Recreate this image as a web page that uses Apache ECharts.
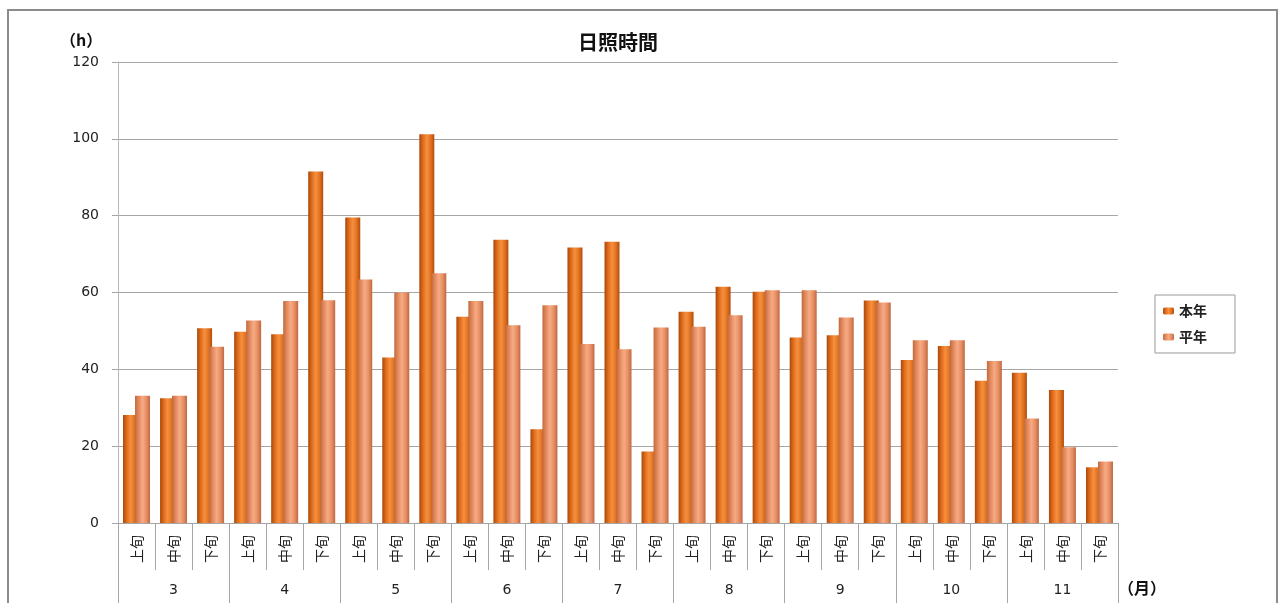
<!DOCTYPE html>
<html>
<head>
<meta charset="utf-8">
<script src="https://cdn.jsdelivr.net/npm/echarts@6/dist/echarts.min.js"></script>
<style>
  html, body { margin: 0; padding: 0; background: #ffffff; }
  #chart { width: 1284px; height: 603px; }
</style>
</head>
<body>
<div id="chart"></div>
<script>
// Sunshine duration per ten-day period (hours), March to November
const months = ['3', '4', '5', '6', '7', '8', '9', '10', '11'];
const dekads = ['上旬', '中旬', '下旬'];
const thisYear = [28.1, 32.5, 50.7, 49.8, 49.1, 91.5, 79.5, 43.1, 101.2,
                  53.7, 73.7, 24.4, 71.7, 73.2, 18.6, 55.0, 61.5, 60.2,
                  48.3, 48.9, 57.9, 42.4, 46.1, 37.0, 39.1, 34.6, 14.5];
const normalYear = [33.1, 33.1, 45.9, 52.7, 57.8, 58.0, 63.4, 60.0, 65.0,
                    57.8, 51.5, 56.7, 46.6, 45.2, 50.9, 51.1, 54.1, 60.6,
                    60.6, 53.5, 57.4, 47.6, 47.6, 42.2, 27.2, 19.7, 16.0];
const yTicks = [0, 20, 40, 60, 80, 100, 120];

// one category per ten-day period
const periods = [];
months.forEach(() => dekads.forEach(d => periods.push(d)));

const jp = '"Noto Sans CJK JP", sans-serif';
const num = '"DejaVu Sans", Verdana, sans-serif';
const gridColor = '#a6a6a6';

function cylinder(stops) {
  return new echarts.graphic.LinearGradient(0, 0, 1, 0,
    stops.map((c, i) => ({ offset: i / (stops.length - 1), color: c })));
}

const chart = echarts.init(document.getElementById('chart'), null, { renderer: 'canvas' });
chart.setOption({
  backgroundColor: '#ffffff',
  animation: false,
  title: {
    text: '日照時間',
    left: 573,
    top: 27,
    textStyle: { fontFamily: jp, fontSize: 20, fontWeight: 'bold', color: '#111' }
  },
  legend: {
    orient: 'vertical',
    left: 1155,
    top: 295,
    padding: [9, 28, 9, 8],
    itemGap: 12,
    itemWidth: 11,
    itemHeight: 7,
    borderColor: '#9a9a9a',
    borderWidth: 1,
    textStyle: { fontFamily: jp, fontSize: 14, fontWeight: 'bold', color: '#222' },
    data: ['本年', '平年']
  },
  grid: { left: 118, right: 166, top: 62, bottom: 80, containLabel: false },
  xAxis: [
    {
      type: 'category',
      data: periods,
      position: 'bottom',
      axisLine: { lineStyle: { color: gridColor, width: 1 } },
      axisTick: { show: true, interval: 0, length: 47, alignWithLabel: false,
                  lineStyle: { color: gridColor } },
      axisLabel: { interval: 0, rotate: 90, margin: 12,
                   fontFamily: jp, fontSize: 14, color: '#222' }
    },
    {
      type: 'category',
      data: months,
      position: 'bottom',
      offset: 47,
      axisLine: { show: false },
      axisTick: { show: true, interval: 0, length: 36, alignWithLabel: false,
                  lineStyle: { color: gridColor } },
      axisLabel: { interval: 0, margin: 13,
                   fontFamily: num, fontSize: 14, color: '#222' }
    }
  ],
  yAxis: {
    type: 'value',
    min: yTicks[0],
    max: yTicks[yTicks.length - 1],
    interval: 20,
    axisLine: { show: true, lineStyle: { color: '#b8b8b8' } },
    axisTick: { show: true, length: 6, lineStyle: { color: gridColor } },
    axisLabel: { margin: 19, fontFamily: num, fontSize: 14, color: '#222' },
    splitLine: { lineStyle: { color: gridColor, width: 1 } }
  },
  series: [
    {
      name: '本年',
      type: 'bar',
      xAxisIndex: 0,
      data: thisYear,
      barWidth: 15,
      barGap: '-20%',
      itemStyle: {
        color: cylinder(['#a9480c', '#e06d1c', '#f59040', '#e4741f', '#b04d0e'])
      }
    },
    {
      name: '平年',
      type: 'bar',
      xAxisIndex: 0,
      data: normalYear,
      barWidth: 15,
      itemStyle: {
        color: cylinder(['#bf6a3e', '#e48a5e', '#f6ab84', '#e89066', '#c06840'])
      }
    }
  ],
  graphic: [
    {
      type: 'rect',
      shape: { x: 8, y: 10, width: 1269, height: 640 },
      style: { fill: 'none', stroke: '#8c8c8c', lineWidth: 2 },
      silent: true
    },
    {
      type: 'text',
      left: 60, top: 32,
      style: { text: '（h）', font: 'bold 16px "Noto Sans CJK JP", sans-serif', fill: '#111' }
    },
    {
      type: 'text',
      left: 1118, top: 580,
      style: { text: '（月）', font: 'bold 16px "Noto Sans CJK JP", sans-serif', fill: '#111' }
    }
  ]
});
</script>
</body>
</html>
